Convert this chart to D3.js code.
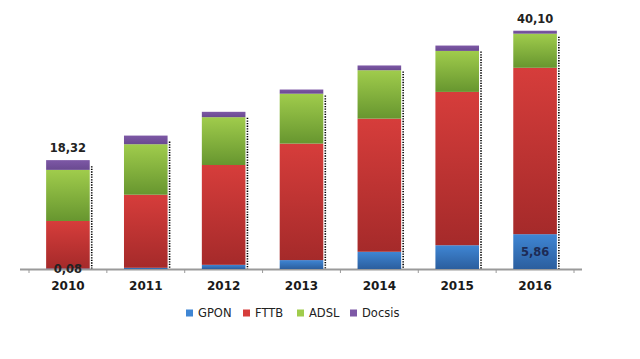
<!DOCTYPE html>
<html><head><meta charset="utf-8">
<script src="https://cdn.jsdelivr.net/npm/d3@7"></script>
<style>html,body{margin:0;padding:0;background:#fff;}svg{display:block;}</style>
</head><body>
<script>
const years = ["2010","2011","2012","2013","2014","2015","2016"];
const seriesNames = ["GPON","FTTB","ADSL","Docsis"];
const gpon   = [0.08, 0.2, 0.7, 1.5, 2.9, 4.0, 5.86];
const fttb   = [8.0, 12.3, 16.8, 19.6, 22.4, 25.8, 28.0];
const adsl   = [8.6, 8.5, 8.05, 8.4, 8.15, 6.9, 5.74];
const docsis = [1.64, 1.45, 0.9, 0.7, 0.8, 0.9, 0.5];
const totalLabels = [{i:0, text:"18,32"},{i:6, text:"40,10"}];
const gponLabels = [{i:0, text:"0,08"},{i:6, text:"5,86"}];

const W=640,H=359;
const svg=d3.select("body").append("svg").attr("width",W).attr("height",H);
const defs=svg.append("defs");
const cols={
  GPON:["#3f86d4","#2b5e9e"],
  FTTB:["#d63d3b","#a52a2a"],
  ADSL:["#a0cc4c","#67962f"],
  Docsis:["#7d58a6","#6a4a90"]
};
seriesNames.forEach(s=>{
  const g=defs.append("linearGradient").attr("id","g"+s).attr("x1",0).attr("y1",0).attr("x2",0).attr("y2",1);
  g.append("stop").attr("offset","0%").attr("stop-color",cols[s][0]);
  g.append("stop").attr("offset","100%").attr("stop-color",cols[s][1]);
});

const rows=years.map((y,i)=>({year:y,GPON:gpon[i],FTTB:fttb[i],ADSL:adsl[i],Docsis:docsis[i]}));
const stack=d3.stack().keys(seriesNames)(rows);

const x=d3.scaleBand().domain(years).range([29,574]).paddingInner(0.44).paddingOuter(0.22);
const baseY=269;
const y=d3.scaleLinear().domain([0,40.1]).range([baseY,30.7]);

// dotted shadow lines
const totals=rows.map(r=>r.GPON+r.FTTB+r.ADSL+r.Docsis);
svg.append("g").selectAll("line").data(years).join("line")
  .attr("x1",d=>x(d)+x.bandwidth()+2).attr("x2",d=>x(d)+x.bandwidth()+2)
  .attr("y1",(d,i)=>y(totals[i])+6).attr("y2",baseY)
  .attr("stroke","#000").attr("stroke-width",1.6).attr("stroke-dasharray","1.3,1.3");

// axis line
svg.append("line").attr("x1",20).attr("x2",582).attr("y1",baseY+0.5).attr("y2",baseY+0.5)
  .attr("stroke","#9a9a9a").attr("stroke-width",2);
const ticks=years.map((d,i)=>x(d)-x.step()*0.22).concat([x(years[6])+x.bandwidth()+x.step()*0.22]);
svg.append("g").selectAll("line").data(ticks).join("line")
  .attr("x1",d=>d).attr("x2",d=>d).attr("y1",baseY).attr("y2",baseY+4)
  .attr("stroke","#9a9a9a").attr("stroke-width",1);

svg.append("g").selectAll("g").data(stack).join("g")
  .attr("fill",d=>"url(#g"+d.key+")")
  .selectAll("rect").data(d=>d).join("rect")
  .attr("x",d=>x(d.data.year)).attr("width",x.bandwidth())
  .attr("y",d=>y(d[1])).attr("height",d=>y(d[0])-y(d[1]));

// year labels
svg.append("g").selectAll("text").data(years).join("text")
  .attr("x",d=>x(d)+x.bandwidth()/2).attr("y",290)
  .attr("text-anchor","middle").attr("font-family","DejaVu Sans").attr("font-weight","bold")
  .attr("font-size","12px").attr("fill","#1a1a1a").text(d=>d);

// total labels
svg.append("g").selectAll("text").data(totalLabels).join("text")
  .attr("x",d=>x(years[d.i])+x.bandwidth()/2).attr("y",d=>y(totals[d.i])-8)
  .attr("text-anchor","middle").attr("font-family","DejaVu Sans").attr("font-weight","bold")
  .attr("font-size","11.5px").attr("fill","#222").text(d=>d.text);

// GPON labels
svg.append("g").selectAll("text").data(gponLabels).join("text")
  .attr("x",d=>x(years[d.i])+x.bandwidth()/2)
  .attr("y",d=>d.i===0?baseY+4:(y(gpon[d.i])+baseY)/2+4)
  .attr("text-anchor","middle").attr("font-family","DejaVu Sans").attr("font-weight","bold")
  .attr("font-size","11.5px").attr("fill",d=>d.i===0?"#222":"#1d2b55").text(d=>d.text);

// legend
const legX=[186,243,297,350];
const leg=svg.append("g").selectAll("g").data(seriesNames).join("g")
  .attr("transform",(d,i)=>`translate(${legX[i]},313)`);
leg.append("rect").attr("x",0).attr("y",-3.5).attr("width",7).attr("height",7).attr("fill",d=>cols[d][0]);
leg.append("text").attr("x",12).attr("y",4).attr("font-family","DejaVu Sans")
  .attr("font-size","11.5px").attr("fill","#222").text(d=>d);
</script>
</body></html>
